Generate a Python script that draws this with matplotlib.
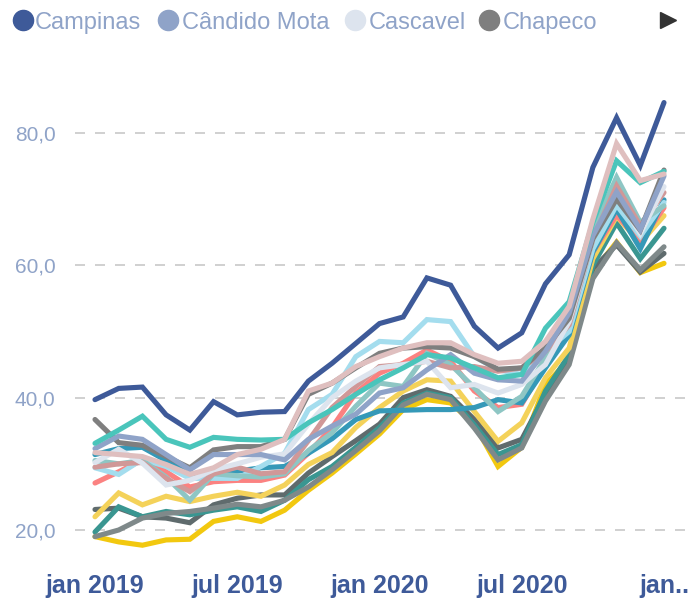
import matplotlib
matplotlib.use("Agg")
import matplotlib.pyplot as plt
from matplotlib.lines import Line2D

plt.rcParams['font.family'] = ['Liberation Sans', 'DejaVu Sans']

months = list(range(25))  # jan 2019 .. jan 2021
tick_pos = [0, 6, 12, 18, 24]
tick_labels = ["jan 2019", "jul 2019", "jan 2020", "jul 2020", "jan.."]
y_ticks = [20, 40, 60, 80]
y_tick_labels = ["20,0", "40,0", "60,0", "80,0"]

legend_names = ["Campinas", "Cândido Mota", "Cascavel", "Chapeco"]

campinas = [39.7, 41.4, 41.6, 37.4, 35.1, 39.4, 37.4, 37.8, 37.9, 42.5, 45.2, 48.2,
            51.2, 52.2, 58.1, 57.0, 50.8, 47.5, 49.8, 57.2, 61.6, 74.8, 82.3, 75.1, 84.6]
candido_mota = [32.3, 34.2, 33.7, 31.4, 29.1, 31.4, 31.4, 31.4, 30.6, 33.7, 35.7, 37.5,
                40.7, 41.5, 44.2, 46.5, 43.7, 42.7, 42.5, 47.0, 52.8, 64.5, 71.1, 65.4, 73.5]
cascavel = [30.2, 32.2, 30.1, 26.8, 27.5, 29.1, 30.0, 31.0, 31.5, 36.0, 40.0, 42.5,
            44.5, 45.0, 45.5, 41.5, 42.0, 40.7, 42.0, 45.0, 51.5, 64.0, 70.5, 64.8, 71.9]
chapeco = [36.7, 33.2, 32.8, 31.1, 29.4, 32.1, 32.6, 32.6, 33.7, 40.5, 42.2, 44.5,
           46.7, 47.5, 47.7, 47.5, 46.2, 44.3, 44.5, 47.5, 52.0, 64.0, 70.0, 65.3, 74.4]
turquesa = [33.1, 35.1, 37.2, 33.7, 32.5, 34.0, 33.7, 33.6, 33.7, 36.2, 38.2, 40.5,
            42.7, 44.5, 46.5, 46.0, 44.5, 43.0, 43.5, 50.5, 54.5, 66.5, 75.8, 72.5, 74.2]
azul = [31.4, 32.3, 32.5, 30.5, 28.4, 28.7, 28.9, 29.4, 29.6, 31.6, 33.8, 36.7,
        38.0, 38.1, 38.2, 38.2, 38.5, 39.7, 39.2, 44.5, 49.5, 62.0, 68.5, 62.5, 69.9]
salmao = [27.1, 28.8, 30.6, 28.8, 26.5, 27.3, 27.5, 27.5, 28.3, 31.6, 35.5, 40.7,
          43.7, 45.2, 47.2, 45.5, 41.0, 38.5, 39.0, 45.0, 50.0, 62.0, 67.6, 63.5, 68.7]
rosa = [31.7, 31.4, 31.1, 29.9, 28.4, 29.4, 31.4, 32.2, 33.7, 41.0, 42.2, 44.7,
        46.2, 47.5, 48.3, 48.3, 46.5, 45.2, 45.5, 48.5, 53.8, 67.0, 78.4, 72.8, 73.8]
azul_claro = [29.4, 28.4, 30.7, 29.6, 27.8, 27.8, 27.8, 29.6, 31.6, 38.2, 40.5, 46.2,
              48.5, 48.3, 51.8, 51.5, 46.2, 44.2, 43.5, 47.0, 50.0, 62.5, 69.1, 64.4, 69.5]
amarelo = [22.0, 25.6, 23.8, 25.1, 24.3, 25.1, 25.7, 25.1, 26.8, 29.9, 31.7, 35.5,
           38.5, 41.0, 42.7, 42.5, 37.9, 33.4, 36.2, 43.0, 47.5, 61.0, 67.4, 63.4, 67.5]
dourado = [19.0, 18.2, 17.7, 18.5, 18.6, 21.3, 22.0, 21.3, 23.0, 26.0, 28.6, 31.5,
           34.5, 38.2, 39.7, 39.2, 36.0, 29.6, 32.5, 42.0, 45.7, 59.0, 63.5, 58.9, 60.3]
verde_escuro = [19.7, 23.5, 22.0, 22.8, 22.3, 23.0, 23.5, 22.8, 24.5, 27.6, 29.6, 32.5,
                35.5, 39.2, 40.7, 40.0, 35.9, 31.4, 32.9, 41.0, 46.5, 60.0, 66.4, 61.0, 65.6]
cinza_verde = [19.0, 20.0, 21.8, 22.5, 22.8, 23.3, 23.9, 23.5, 24.5, 26.5, 29.1, 32.0,
               35.0, 38.9, 40.5, 39.7, 35.4, 30.6, 32.4, 39.5, 45.0, 58.0, 63.4, 59.3, 62.8]
cinza_escuro = [23.1, 23.3, 22.0, 21.8, 21.1, 23.8, 24.8, 25.3, 25.3, 28.6, 31.1, 33.5,
                36.0, 40.0, 41.2, 40.2, 36.7, 32.4, 33.7, 40.5, 46.0, 59.5, 63.1, 59.0, 61.8]
verde_palido = [30.5, 30.0, 30.5, 28.0, 24.5, 28.5, 28.2, 28.0, 28.5, 32.0, 34.7, 38.7,
                42.2, 41.7, 46.7, 45.0, 41.5, 37.9, 40.2, 46.0, 52.5, 65.5, 73.3, 66.5, 69.0]
rosa_escuro = [29.5, 30.0, 30.2, 27.8, 25.8, 28.5, 29.5, 28.5, 28.8, 33.5, 38.5, 41.7,
               44.7, 45.0, 45.5, 44.5, 44.7, 44.0, 44.5, 47.0, 51.0, 64.0, 72.0, 66.0, 71.0]

# draw order (bottom first) : (values, color)
series = [
    (dourado, '#F2C80F'),
    (cinza_escuro, '#5F6B6D'),
    (verde_escuro, '#3A9691'),
    (cinza_verde, '#7F898A'),
    (amarelo, '#F4D25A'),
    (salmao, '#FB8281'),
    (azul, '#3599B8'),
    (azul_claro, '#A4DDEE'),
    (verde_palido, '#8EC6C4'),
    (rosa_escuro, '#D09898'),
    (cascavel, '#DDE4EE'),
    (chapeco, '#7F7F7F'),
    (candido_mota, '#8FA3C8'),
    (turquesa, '#4AC5BB'),
    (rosa, '#DFBFBF'),
    (campinas, '#3E5A99'),
]
legend_colors = ['#3E5A99', '#8FA3C8', '#DDE4EE', '#7F7F7F']

W, H = 688, 598
fig = plt.figure(figsize=(W / 100, H / 100), dpi=100)

# axes in pixel geometry
ax_l, ax_r, ax_t, ax_b = 75, 688, 70, 560
ax = fig.add_axes([ax_l / W, (H - ax_b) / H, (ax_r - ax_l) / W, (ax_b - ax_t) / H])

for vals, col in series:
    ax.plot(months, vals, color=col, linewidth=3.7, solid_capstyle='round',
            solid_joinstyle='miter')

# x range: point 0 at px 95, point 24 at px 664
ppx = 24 / (664 - 95)
ax.set_xlim(0 - (95 - ax_l) * ppx, 24 + (ax_r - 664) * ppx)
# y range: 20 at px 530, 80 at px 133
ppy = 60 / (530 - 133)
ax.set_ylim(20 - (ax_b - 530) * ppy, 80 + (133 - ax_t) * ppy)

ax.set_yticks(y_ticks)
ax.set_yticklabels(y_tick_labels)
ax.set_xticks(tick_pos)
ax.set_xticklabels(tick_labels)
ax.tick_params(axis='y', length=0, pad=14, labelsize=15, labelcolor='#8FA3C8')
ax.tick_params(axis='x', length=0, pad=10, labelsize=18, labelcolor='#3E5A99')
for t in ax.get_xticklabels():
    t.set_fontweight('bold')

ax.yaxis.grid(True, color='#C8C8C8', linewidth=1.2, linestyle=(0, (6, 6)))
ax.xaxis.grid(False)
ax.set_axisbelow(True)
for s in ax.spines.values():
    s.set_visible(False)
ax.patch.set_alpha(0)

# legend (top row)
circ_x = [23, 168, 355, 489]
text_x = [35, 182, 369, 503]
ly = 20
for name, col, cx, tx in zip(legend_names, legend_colors, circ_x, text_x):
    fig.add_artist(Line2D([cx / W], [1 - ly / H], marker='o', markersize=14.5,
                          color=col, linestyle='none', transform=fig.transFigure))
    fig.text(tx / W, 1 - (ly + 9) / H, name, fontsize=17, color='#8FA3C8',
             ha='left', va='baseline')
fig.add_artist(Line2D([668 / W], [1 - ly / H], marker='>', markersize=11,
                      color='#333333', linestyle='none', transform=fig.transFigure))

fig.savefig('out.png', dpi=100)
